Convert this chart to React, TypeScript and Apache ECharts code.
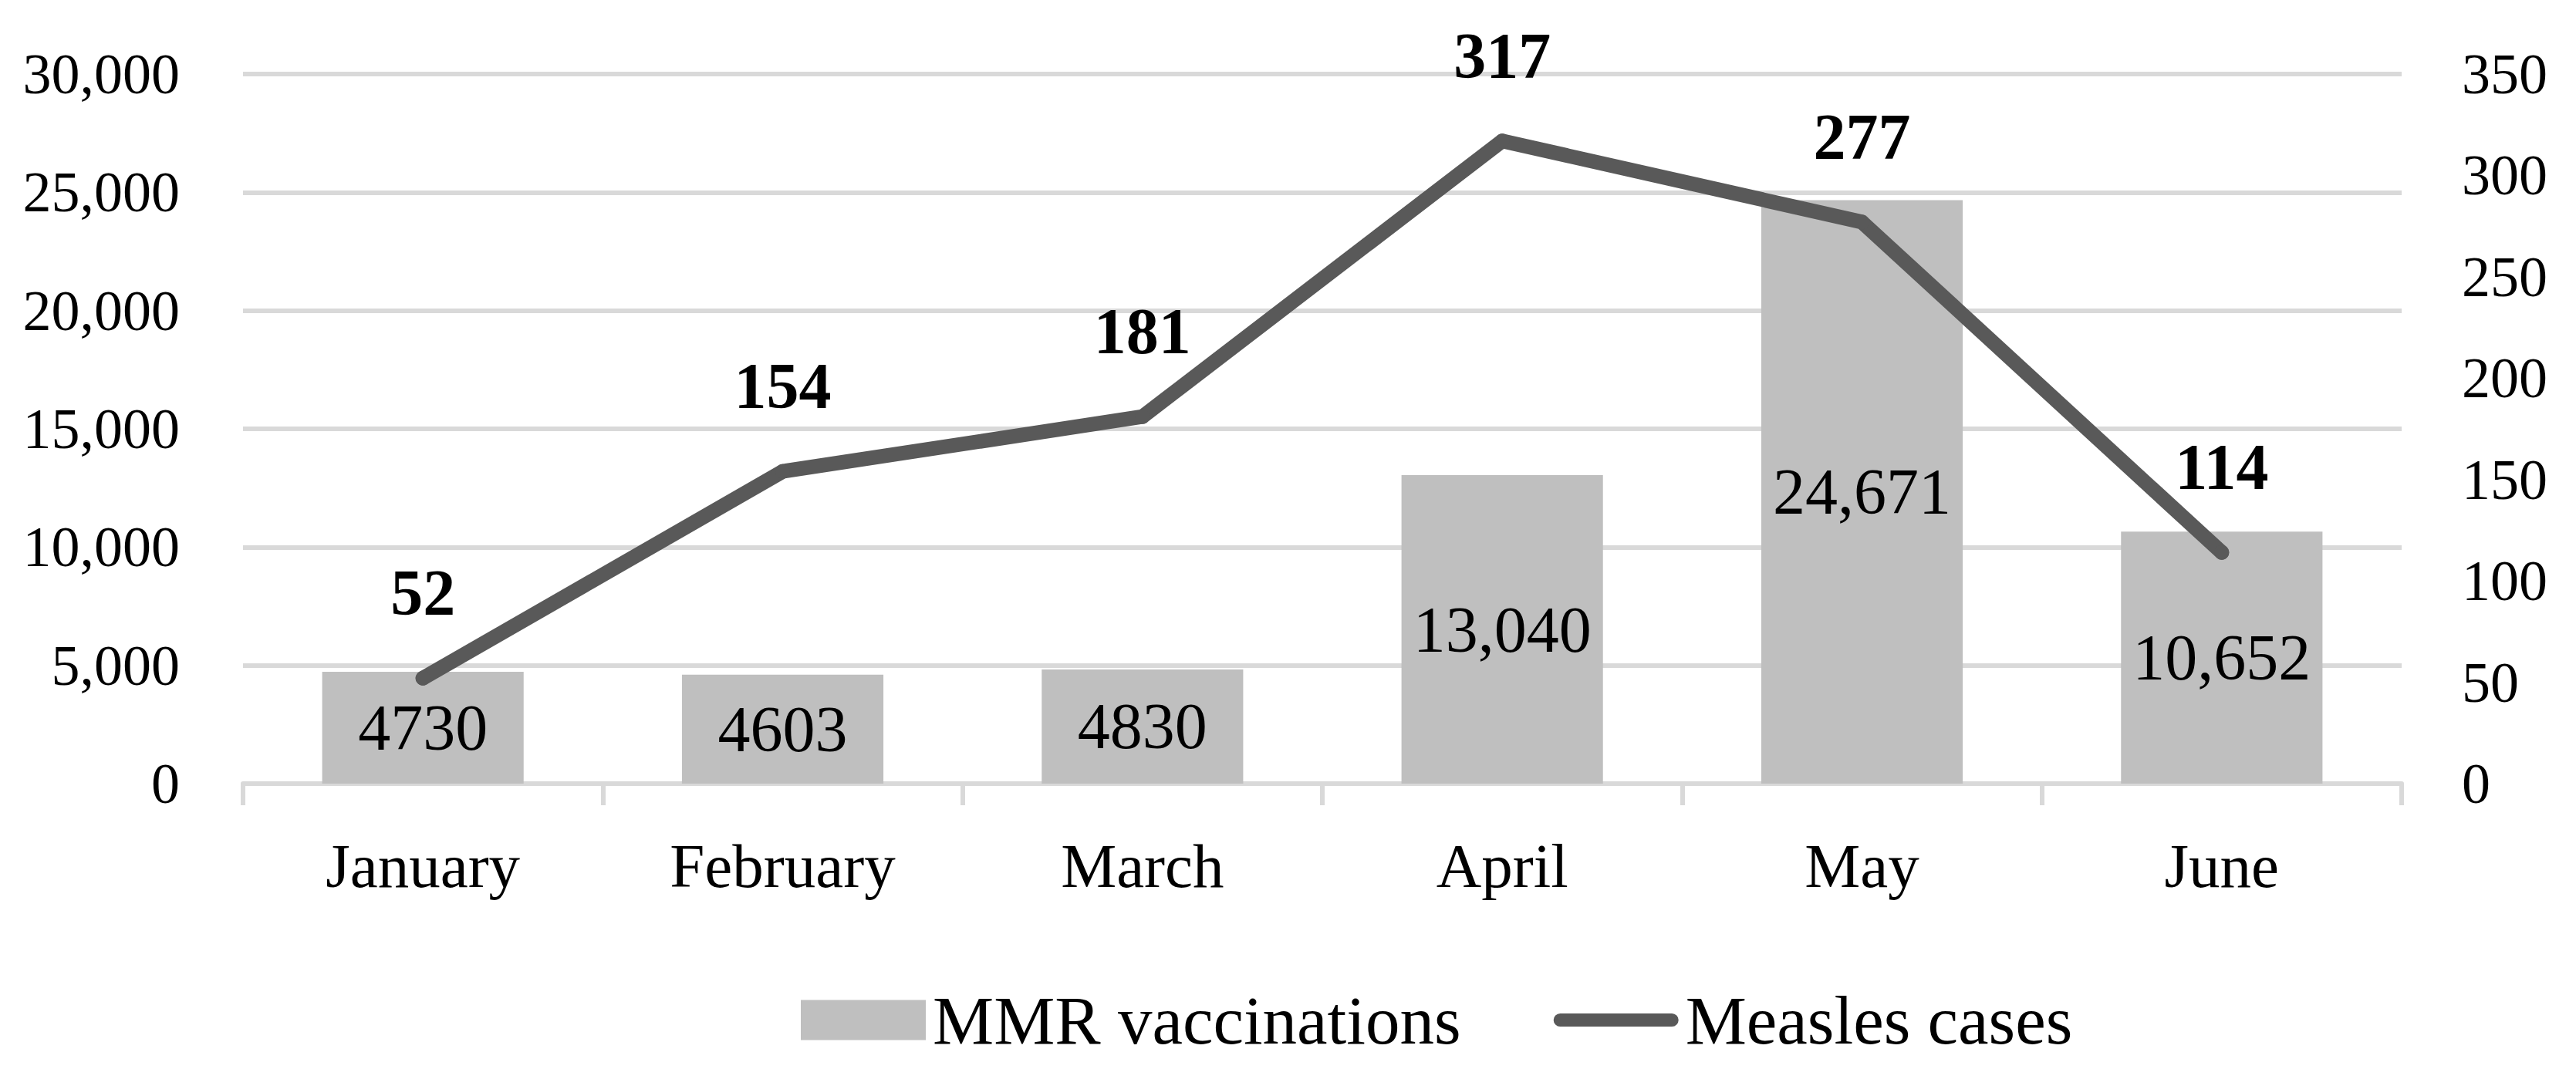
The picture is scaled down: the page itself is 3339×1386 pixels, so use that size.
import React, { useEffect, useRef } from "react";
import * as echarts from "echarts";

const categories = ["January", "February", "March", "April", "May", "June"];
const vaccinations = [4730, 4603, 4830, 13040, 24671, 10652];
const vaccinationLabels = ["4730", "4603", "4830", "13,040", "24,671", "10,652"];
const measlesCases = [52, 154, 181, 317, 277, 114];
const leftTicks = { min: 0, max: 30000, interval: 5000 };
const rightTicks = { min: 0, max: 350, interval: 50 };

const FONT = "'Liberation Serif', 'Times New Roman', serif";
const LINE_ICON = "path://M9,0 H161 A9,9 0 0 1 161,18 H9 A9,9 0 0 1 9,0 Z";

export default function App() {
  const ref = useRef<HTMLDivElement>(null);
  useEffect(() => {
    document.body.style.margin = "0";
    const chart = echarts.init(ref.current!, null, { renderer: "svg" });
    chart.setOption({
      animation: false,
      backgroundColor: "#ffffff",
      textStyle: { fontFamily: FONT },
      grid: { left: 315, right: 226, top: 96, bottom: 370 },
      legend: {
        bottom: 14,
        left: 1033,
        itemWidth: 162,
        itemHeight: 52,
        itemGap: 120,
        symbolKeepAspect: true,
        textStyle: { fontFamily: FONT, fontSize: 89, color: "#000", padding: [0, 0, 0, 4] },
        data: [
          { name: "MMR vaccinations", icon: "rect" },
          { name: "Measles cases", icon: LINE_ICON },
        ],
      },
      xAxis: {
        type: "category",
        data: categories,
        axisLine: { lineStyle: { color: "#D9D9D9", width: 6 } },
        axisTick: { show: true, length: 28, lineStyle: { color: "#D9D9D9", width: 6 } },
        axisLabel: { color: "#000", fontFamily: FONT, fontSize: 81, margin: 66 },
      },
      yAxis: [
        {
          type: "value",
          min: leftTicks.min,
          max: leftTicks.max,
          interval: leftTicks.interval,
          axisLine: { show: false },
          axisTick: { show: false },
          splitLine: { lineStyle: { color: "#D9D9D9", width: 6 } },
          axisLabel: {
            color: "#000",
            fontFamily: FONT,
            fontSize: 74,
            margin: 82,
            formatter: (v: number) => v.toLocaleString("en-US"),
          },
        },
        {
          type: "value",
          min: rightTicks.min,
          max: rightTicks.max,
          interval: rightTicks.interval,
          position: "right",
          axisLine: { show: false },
          axisTick: { show: false },
          splitLine: { show: false },
          axisLabel: { color: "#000", fontFamily: FONT, fontSize: 74, margin: 78 },
        },
      ],
      series: [
        {
          name: "MMR vaccinations",
          type: "bar",
          yAxisIndex: 0,
          data: vaccinations,
          barWidth: "56%",
          itemStyle: { color: "#BFBFBF" },
          label: {
            show: true,
            position: "inside",
            color: "#000",
            fontFamily: FONT,
            fontSize: 84,
            formatter: (p: any) => vaccinationLabels[p.dataIndex],
          },
        },
        {
          name: "Measles cases",
          type: "line",
          yAxisIndex: 1,
          data: measlesCases,
          symbol: "circle",
          symbolSize: 19,
          itemStyle: { color: "#595959" },
          lineStyle: { color: "#595959", width: 19, cap: "round", join: "round" },
          label: {
            show: true,
            position: "top",
            distance: 59,
            color: "#000",
            fontFamily: FONT,
            fontWeight: "bold",
            fontSize: 84,
          },
        },
      ],
    });
    return () => chart.dispose();
  }, []);
  return <div ref={ref} style={{ width: 3339, height: 1386 }} />;
}
